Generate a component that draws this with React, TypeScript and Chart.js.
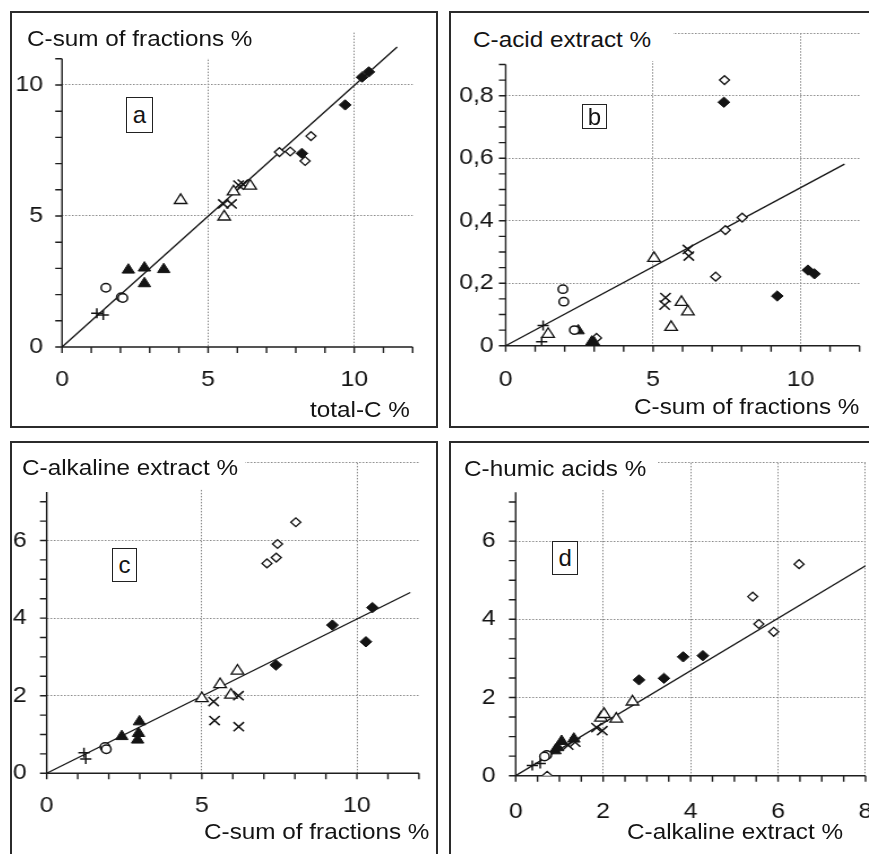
import React, { useEffect, useRef } from 'react';
import { Chart, registerables } from 'chart.js';

Chart.register(...registerables);

// ---------- Panel a: total-C % (x) vs C-sum of fractions % (y)
const A_PLUS = [[1.19, 1.29], [1.41, 1.22]];
const A_CIRCLE = [[1.5, 2.26], [2.03, 1.9], [2.08, 1.87]];
const A_TRI_FILLED = [[2.27, 2.94], [2.82, 3.02], [2.82, 2.42], [3.48, 2.96]];
const A_TRI_OPEN = [[4.06, 5.6], [5.55, 4.97], [5.87, 5.93], [6.44, 6.15]];
const A_XCROSS = [[5.52, 5.46], [5.8, 5.46], [6.04, 6.18], [6.19, 6.22]];
const A_DIAM_OPEN = [[7.44, 7.44], [7.81, 7.46], [8.32, 7.1], [8.52, 8.05]];
const A_DIAM_FILLED = [[8.21, 7.39], [9.69, 9.24], [10.27, 10.3], [10.5, 10.5]];
const A_FIT = [[0, 0], [11.47, 11.45]];

// ---------- Panel b: C-sum of fractions % (x) vs C-acid extract % (y)
const B_PLUS = [[1.27, 0.065], [1.22, 0.013]];
const B_CIRCLE = [[1.94, 0.181], [1.97, 0.141], [2.33, 0.05]];
const B_TRI_FILLED = [[2.46, 0.048], [2.92, 0.012], [2.96, 0.005], [3.0, 0.009]];
const B_TRI_OPEN = [[1.44, 0.037], [5.03, 0.28], [5.61, 0.059], [5.96, 0.139], [6.18, 0.109]];
const B_XCROSS = [[5.42, 0.154], [5.39, 0.13], [6.18, 0.308], [6.21, 0.287]];
const B_DIAM_OPEN = [[3.08, 0.025], [7.12, 0.221], [7.42, 0.85], [7.45, 0.37], [8.02, 0.41]];
const B_DIAM_FILLED = [[7.4, 0.779], [9.21, 0.159], [10.25, 0.242], [10.47, 0.23]];
const B_FIT = [[0, 0], [11.49, 0.581]];

// ---------- Panel c: C-sum of fractions % (x) vs C-alkaline extract % (y)
const C_PLUS = [[1.2, 0.53], [1.26, 0.37]];
const C_CIRCLE = [[1.88, 0.68], [1.92, 0.62]];
const C_TRI_FILLED = [[2.42, 0.95], [2.99, 1.33], [2.96, 1.03], [2.93, 0.86]];
const C_TRI_OPEN = [[5.0, 1.93], [5.59, 2.29], [5.94, 2.02], [6.15, 2.64]];
const C_XCROSS = [[5.38, 1.85], [5.41, 1.36], [6.18, 2.0], [6.19, 1.2]];
const C_DIAM_OPEN = [[7.1, 5.41], [7.4, 5.56], [7.44, 5.91], [8.03, 6.47]];
const C_DIAM_FILLED = [[7.39, 2.79], [9.21, 3.82], [10.29, 3.39], [10.5, 4.27]];
const C_FIT = [[0, 0], [11.72, 4.66]];

// ---------- Panel d: C-alkaline extract % (x) vs C-humic acids % (y)
const D_PLUS = [[0.38, 0.26], [0.56, 0.31]];
const D_CIRCLE = [[0.71, 0.53], [0.66, 0.49]];
const D_TRI_FILLED = [[0.9, 0.64], [1.05, 0.88], [1.33, 0.94], [0.96, 0.72]];
const D_TRI_OPEN = [[1.95, 1.48], [2.02, 1.57], [2.3, 1.45], [2.67, 1.89]];
const D_XCROSS = [[1.85, 1.23], [1.98, 1.15], [1.2, 0.78], [1.36, 0.86]];
const D_DIAM_OPEN = [[0.72, 0.0], [5.42, 4.58], [5.56, 3.88], [5.9, 3.68], [6.48, 5.41]];
const D_DIAM_FILLED = [[2.82, 2.45], [3.39, 2.49], [3.83, 3.04], [4.28, 3.07]];
const D_FIT = [[0, 0], [8.0, 5.37]];

// ---------- styles
const INK = '#141414';
const FONT = '"Liberation Sans", Arial, Helvetica, sans-serif';
const SX = 1.13; // horizontal stretch of the original figure
const STYLES: Record<string, any> = {
  plus: { pointStyle: 'cross', radius: 5, bw: 1.5, filled: false },
  circle: { pointStyle: 'circle', radius: 4.2, bw: 1.5, filled: false },
  triFilled: { pointStyle: 'triangle', radius: 6.3, bw: 1, filled: true },
  triOpen: { pointStyle: 'triangle', radius: 6.4, bw: 1.3, filled: false },
  xcross: { pointStyle: 'crossRot', radius: 6.5, bw: 1.5, filled: false },
  diamOpen: { pointStyle: 'rectRot', radius: 4.4, bw: 1.3, filled: false },
  diamFilled: { pointStyle: 'rectRot', radius: 5.2, bw: 1, filled: true },
};

const isMajor = (v: number, m: number) => Math.abs(v / m - Math.round(v / m)) < 1e-6;

const excelAxes = {
  id: 'excelAxes',
  beforeDatasetsDraw(chart: any, _args: any, opts: any) {
    const { ctx } = chart;
    const xs = chart.scales.x;
    const ys = chart.scales.y;
    const T = 6;
    const x0 = xs.getPixelForValue(0);
    const y0 = ys.getPixelForValue(0);
    const xe = xs.getPixelForValue(opts.xEnd);
    const ye = ys.getPixelForValue(opts.yEnd);
    ctx.save();
    ctx.strokeStyle = '#1e1e1e';
    ctx.lineWidth = 1.4;
    ctx.beginPath();
    ctx.moveTo(x0 - T, y0);
    ctx.lineTo(xe, y0);
    ctx.moveTo(x0, y0);
    ctx.lineTo(x0, ye);
    xs.ticks.forEach((t: any) => {
      if (t.value <= opts.xEnd + 1e-9) {
        const p = xs.getPixelForValue(t.value);
        ctx.moveTo(p, y0);
        ctx.lineTo(p, y0 + T);
      }
    });
    ys.ticks.forEach((t: any) => {
      if (t.value <= opts.yEnd + 1e-9) {
        const p = ys.getPixelForValue(t.value);
        ctx.moveTo(x0 - T, p);
        ctx.lineTo(x0, p);
      }
    });
    ctx.stroke();
    ctx.restore();
  },
};

const fmtInt = (v: number) => String(Math.round(v));
const fmtComma = (v: number) => (v === 0 ? '0' : v.toFixed(1).replace('.', ','));

const PANELS: any[] = [
  {
    letter: 'a',
    box: { left: 10, top: 11, width: 428, height: 417 },
    canvas: { left: 12, top: 13, width: 424, height: 413 },
    area: { left: 62, top: 32.6, right: 412.4, bottom: 347 },
    x: { max: 12, step: 1, major: 5, end: 12, pad: 20, fmt: fmtInt },
    y: { max: 12, step: 1, major: 5, end: 11, pad: 19, fmt: fmtInt },
    series: { plus: A_PLUS, circle: A_CIRCLE, triFilled: A_TRI_FILLED, triOpen: A_TRI_OPEN, xcross: A_XCROSS, diamOpen: A_DIAM_OPEN, diamFilled: A_DIAM_FILLED },
    fit: A_FIT,
    yTitle: { text: 'C-sum of fractions %', left: 27, baseline: 47 },
    mask: { left: 13, top: 28, width: 250, height: 30 },
    xTitle: { text: 'total-C %', left: 310, baseline: 418 },
    lbox: { left: 126, top: 97, width: 27, height: 36 },
  },
  {
    letter: 'b',
    box: { left: 449, top: 11, width: 440, height: 417 },
    canvas: { left: 451, top: 13, width: 436, height: 413 },
    area: { left: 505.7, top: 33.2, right: 859.7, bottom: 345.7 },
    x: { max: 12, step: 1, major: 5, end: 12, pad: 21, fmt: fmtInt },
    y: { max: 1.0, step: 0.05, major: 0.2, end: 0.9, pad: 12, fmt: fmtComma },
    series: { plus: B_PLUS, circle: B_CIRCLE, triFilled: B_TRI_FILLED, triOpen: B_TRI_OPEN, xcross: B_XCROSS, diamOpen: B_DIAM_OPEN, diamFilled: B_DIAM_FILLED },
    fit: B_FIT,
    yTitle: { text: 'C-acid extract %', left: 473.3, baseline: 48 },
    mask: { left: 453, top: 28, width: 220, height: 33 },
    xTitle: { text: 'C-sum of fractions %', left: 634, baseline: 415 },
    lbox: { left: 581.7, top: 104, width: 25.6, height: 25.3 },
  },
  {
    letter: 'c',
    box: { left: 10, top: 441, width: 428, height: 440 },
    canvas: { left: 12, top: 443, width: 424, height: 420 },
    area: { left: 46.7, top: 462.9, right: 418.7, bottom: 773.3 },
    x: { max: 12, step: 1, major: 5, end: 12, pad: 19, fmt: fmtInt },
    y: { max: 8, step: 0.5, major: 2, end: 7.25, pad: 20, fmt: fmtInt },
    series: { plus: C_PLUS, circle: C_CIRCLE, triFilled: C_TRI_FILLED, triOpen: C_TRI_OPEN, xcross: C_XCROSS, diamOpen: C_DIAM_OPEN, diamFilled: C_DIAM_FILLED },
    fit: C_FIT,
    yTitle: { text: 'C-alkaline extract %', left: 21.7, baseline: 476.5 },
    mask: { left: 13, top: 458, width: 232, height: 31 },
    xTitle: { text: 'C-sum of fractions %', left: 204, baseline: 840 },
    lbox: { left: 112.3, top: 548.3, width: 24.4, height: 33.4 },
  },
  {
    letter: 'd',
    box: { left: 449, top: 441, width: 440, height: 440 },
    canvas: { left: 451, top: 443, width: 436, height: 420 },
    area: { left: 515.7, top: 462.9, right: 865.7, bottom: 775.7 },
    x: { max: 8, step: 0.5, major: 2, end: 8, pad: 23, fmt: fmtInt },
    y: { max: 8, step: 0.5, major: 2, end: 7.25, pad: 20, fmt: fmtInt },
    series: { plus: D_PLUS, circle: D_CIRCLE, triFilled: D_TRI_FILLED, triOpen: D_TRI_OPEN, xcross: D_XCROSS, diamOpen: D_DIAM_OPEN, diamFilled: D_DIAM_FILLED },
    fit: D_FIT,
    yTitle: { text: 'C-humic acids %', left: 464, baseline: 476.7 },
    mask: { left: 453, top: 458, width: 205, height: 32 },
    xTitle: { text: 'C-alkaline extract %', left: 626.7, baseline: 840 },
    lbox: { left: 552.3, top: 540.7, width: 25.7, height: 34.3 },
  },
];

const TITLE_SIZE = 21.5;
const titleStyle = (left: number, baseline: number): React.CSSProperties => ({
  position: 'absolute',
  left,
  top: baseline - 0.8465 * TITLE_SIZE,
  fontFamily: FONT,
  fontSize: TITLE_SIZE,
  lineHeight: `${TITLE_SIZE}px`,
  whiteSpace: 'nowrap',
  color: INK,
  transform: `scaleX(${SX})`,
  transformOrigin: 'left top',
});

function Panel({ cfg }: { cfg: any }) {
  const ref = useRef<HTMLCanvasElement>(null);
  const c = cfg;
  const attrW = Math.round(c.canvas.width / SX);
  const cssW = attrW * SX;
  useEffect(() => {
    const canvasBottom = c.canvas.top + c.canvas.height;
    const canvasRight = c.canvas.left + cssW;
    const datasets: any[] = Object.keys(c.series).map((key) => {
      const st = STYLES[key];
      return {
        type: 'scatter',
        label: key,
        data: c.series[key].map((p: number[]) => ({ x: p[0], y: p[1] })),
        pointStyle: st.pointStyle,
        pointRadius: st.radius,
        pointBorderWidth: st.bw,
        pointBorderColor: INK,
        pointBackgroundColor: st.filled ? INK : '#ffffff',
        borderColor: INK,
        backgroundColor: st.filled ? INK : '#ffffff',
        showLine: false,
        order: 0,
      };
    });
    datasets.push({
      type: 'line',
      label: 'fit',
      data: c.fit.map((p: number[]) => ({ x: p[0], y: p[1] })),
      borderColor: INK,
      borderWidth: 1.3,
      pointRadius: 0,
      fill: false,
      tension: 0,
      order: 10,
    });
    const axisOpts = (a: any, horizontal: boolean) => ({
      type: 'linear',
      position: horizontal ? 'bottom' : 'left',
      min: 0,
      max: a.max,
      afterFit: (s: any) => {
        if (horizontal) s.height = canvasBottom - c.area.bottom;
        else s.width = (c.area.left - c.canvas.left) / SX;
        s.paddingLeft = 0;
        s.paddingRight = 0;
        s.paddingTop = 0;
        s.paddingBottom = 0;
      },
      ticks: {
        stepSize: a.step,
        autoSkip: false,
        maxRotation: 0,
        minRotation: 0,
        padding: horizontal ? a.pad : a.pad / SX,
        color: INK,
        font: { family: FONT, size: 22 },
        callback: (v: any) => {
          const n = Number(v);
          return isMajor(n, a.major) && n <= a.end + 1e-9 ? a.fmt(n) : '';
        },
      },
      grid: {
        drawTicks: false,
        lineWidth: 1,
        color: (ctx: any) => {
          const v = ctx.tick ? ctx.tick.value : 0;
          return v !== 0 && isMajor(v, a.major) ? '#8a8a8a' : 'rgba(0,0,0,0)';
        },
      },
      border: { display: false, dash: [1.5, 1.5] },
    });
    const chart = new Chart(ref.current as HTMLCanvasElement, {
      type: 'scatter',
      data: { datasets },
      options: {
        animation: false,
        responsive: false,
        devicePixelRatio: 1,
        events: [],
        layout: {
          padding: {
            left: 0,
            bottom: 0,
            top: c.area.top - c.canvas.top,
            right: (canvasRight - c.area.right) / SX,
          },
        },
        scales: {
          x: axisOpts(c.x, true),
          y: axisOpts(c.y, false),
        },
        plugins: {
          legend: { display: false },
          tooltip: { enabled: false },
          excelAxes: { xEnd: c.x.end, yEnd: c.y.end },
        },
      } as any,
      plugins: [excelAxes as any],
    });
    return () => chart.destroy();
  }, [cfg]);

  return (
    <>
      <div
        style={{
          position: 'absolute',
          left: c.box.left,
          top: c.box.top,
          width: c.box.width,
          height: c.box.height,
          border: '2px solid #2b2b2b',
          boxSizing: 'border-box',
        }}
      />
      <canvas
        ref={ref}
        width={attrW}
        height={c.canvas.height}
        style={{
          position: 'absolute',
          left: c.canvas.left,
          top: c.canvas.top,
          width: `${cssW}px`,
          height: `${c.canvas.height}px`,
        }}
      />
      <div
        style={{
          position: 'absolute',
          left: c.mask.left,
          top: c.mask.top,
          width: c.mask.width,
          height: c.mask.height,
          background: '#ffffff',
        }}
      />
      <div style={titleStyle(c.yTitle.left, c.yTitle.baseline)}>{c.yTitle.text}</div>
      <div style={titleStyle(c.xTitle.left, c.xTitle.baseline)}>{c.xTitle.text}</div>
      <div
        style={{
          position: 'absolute',
          left: c.lbox.left,
          top: c.lbox.top,
          width: c.lbox.width,
          height: c.lbox.height,
          border: '1.5px solid #222',
          boxSizing: 'border-box',
          background: '#ffffff',
          display: 'flex',
          alignItems: 'center',
          justifyContent: 'center',
          fontFamily: FONT,
          fontSize: 24,
          lineHeight: 1,
          color: INK,
        }}
      >
        {c.letter}
      </div>
    </>
  );
}

export default function App() {
  return (
    <div
      style={{
        position: 'fixed',
        left: 0,
        top: 0,
        width: 869,
        height: 854,
        overflow: 'hidden',
        background: '#ffffff',
      }}
    >
      {PANELS.map((p) => (
        <Panel key={p.letter} cfg={p} />
      ))}
    </div>
  );
}
